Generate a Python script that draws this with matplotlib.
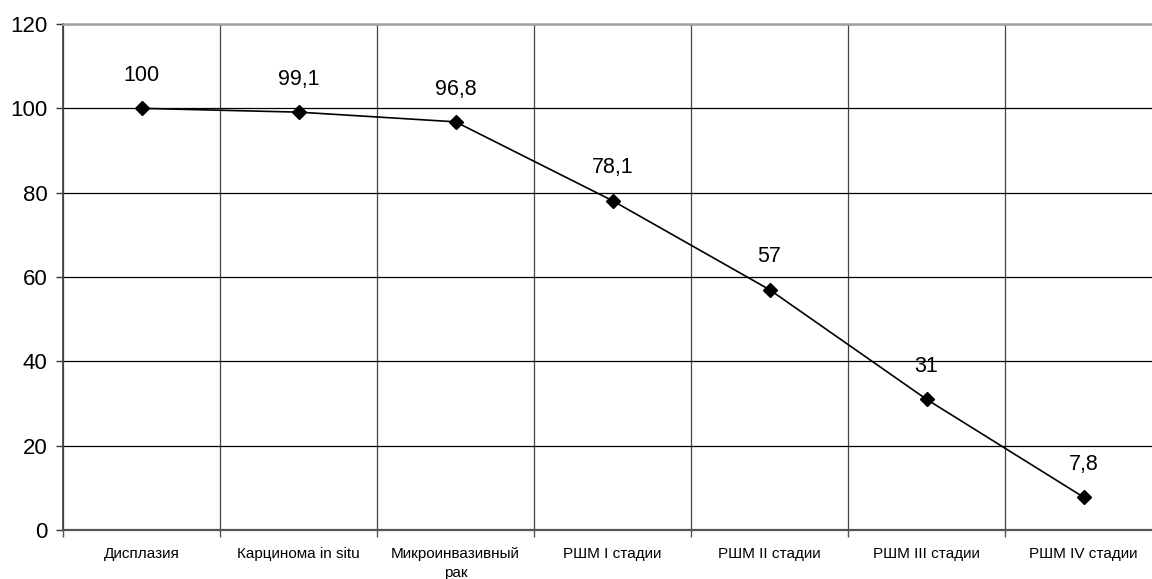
import numpy as np
import matplotlib.pyplot as plt

plt.rcParams['font.family'] = ['Liberation Sans', 'DejaVu Sans']

categories = ['Дисплазия', 'Карцинома in situ', 'Микроинвазивный\nрак',
              'РШМ I стадии', 'РШМ II стадии', 'РШМ III стадии', 'РШМ IV стадии']
values = [100, 99.1, 96.8, 78.1, 57, 31, 7.8]
value_labels = ['100', '99,1', '96,8', '78,1', '57', '31', '7,8']
yticks = [0, 20, 40, 60, 80, 100, 120]

fig = plt.figure(figsize=(11.52, 5.79), dpi=100)
ax = fig.add_axes([63 / 1152, 1 - 530 / 579, 1099 / 1152, 506 / 579])

x = np.arange(len(categories))
ax.plot(x, values, color='black', lw=1.2, marker='D', markersize=7, zorder=3)
for xi, v, lab in zip(x, values, value_labels):
    ax.annotate(lab, (xi, v), xytext=(0, 16), textcoords='offset points',
                ha='center', va='bottom', fontsize=15.5)

ax.set_xlim(-0.5, len(categories) - 0.5)
ax.set_ylim(0, 120)
ax.set_yticks(yticks)
ax.tick_params(axis='y', labelsize=16, length=5, width=1, color='#333333', pad=6)

# vertical grid at category boundaries
bounds = np.arange(len(categories) + 1) - 0.5
ax.set_xticks(bounds)
ax.set_xticklabels([])
ax.set_xticks(x, minor=True)
ax.set_xticklabels(categories, minor=True, fontsize=11, va='top', linespacing=1.5)
ax.tick_params(axis='x', which='major', length=5, width=1, color='#555555')
ax.tick_params(axis='x', which='minor', length=0, pad=12)

ax.grid(axis='y', color='black', lw=0.9)
ax.grid(axis='x', which='major', color='#444444', lw=0.9)
ax.set_axisbelow(True)

ax.spines['right'].set_visible(False)
ax.spines['top'].set_color('#a0a0a0')
ax.spines['top'].set_linewidth(1.8)
ax.spines['bottom'].set_color('#555555')
ax.spines['bottom'].set_linewidth(1.6)
ax.spines['left'].set_color('#444444')
ax.spines['left'].set_linewidth(1.3)

fig.savefig('out.png', dpi=100)
